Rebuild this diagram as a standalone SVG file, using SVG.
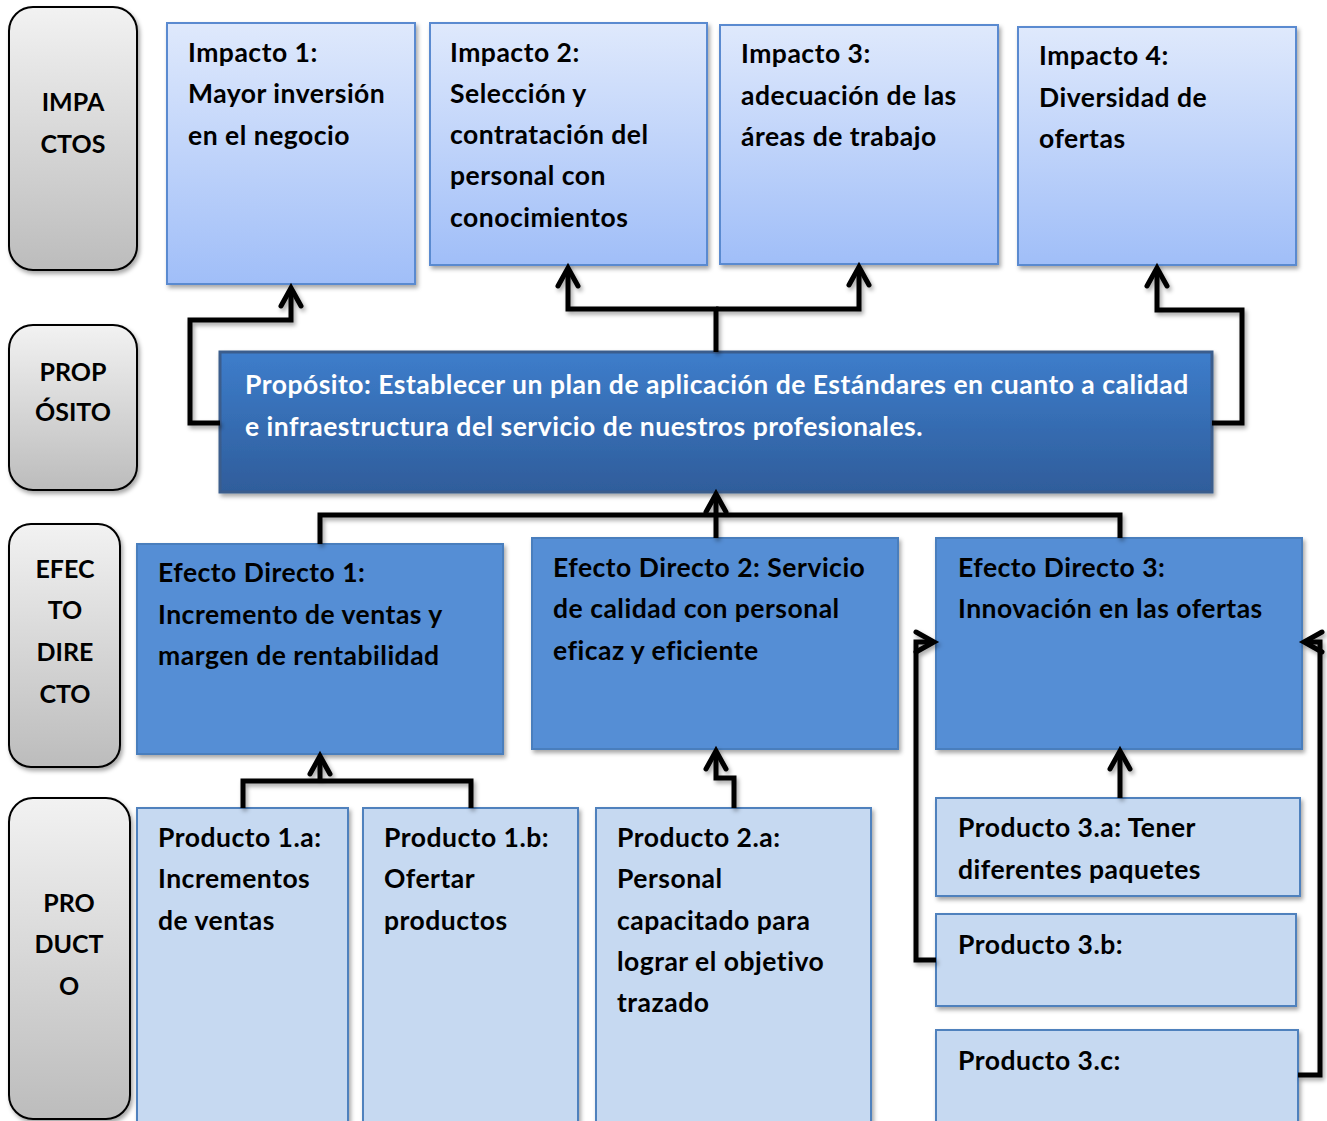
<svg xmlns="http://www.w3.org/2000/svg" width="1327" height="1121" viewBox="0 0 1327 1121">
<defs>
<linearGradient id="gGray" x1="0" y1="0" x2="0" y2="1"><stop offset="0" stop-color="#f2f2f2"/><stop offset="1" stop-color="#bcbcbc"/></linearGradient>
<linearGradient id="gImp" x1="0" y1="0" x2="0" y2="1"><stop offset="0" stop-color="#dfe9fc"/><stop offset="1" stop-color="#a0bef8"/></linearGradient>
<linearGradient id="gProp" x1="0" y1="0" x2="0" y2="1"><stop offset="0" stop-color="#3d7dcb"/><stop offset="1" stop-color="#2f5d9b"/></linearGradient>
<filter id="sh" x="-10%" y="-10%" width="130%" height="130%"><feDropShadow dx="2" dy="3" stdDeviation="2" flood-color="#000" flood-opacity="0.35"/></filter>
<marker id="arr" markerUnits="userSpaceOnUse" viewBox="-25 -15 30 30" markerWidth="30" markerHeight="30" refX="0" refY="0" orient="auto" overflow="visible">
<path d="M-18,-10 L0,0 L-18,10" fill="none" stroke="#000" stroke-width="5" stroke-linecap="round" stroke-linejoin="miter"/>
</marker>
</defs>
<style>
.lbl{fill:url(#gGray);stroke:#000;stroke-width:2}
.imp{fill:url(#gImp);stroke:#5a8ad0;stroke-width:2}
.prop{fill:url(#gProp);stroke:#3a5d8c;stroke-width:3}
.ef{fill:#558ed5;stroke:#4a7ebd;stroke-width:2}
.pr{fill:#c6d9f1;stroke:#4f81bd;stroke-width:2}
text{font-family:Lato,"Liberation Sans",sans-serif;font-weight:bold;font-size:26.5px;letter-spacing:0.5px;fill:#000}
.c{text-anchor:middle;font-size:25px;letter-spacing:0}
.w{fill:#fff}
.cn{fill:none;stroke:#000;stroke-width:5;stroke-linejoin:miter}
</style>

<g id="lbl-impactos"><rect class="lbl" x="9" y="7" width="128" height="263" rx="24" filter="url(#sh)"/><text class="c" x="73" y="111">IMPA</text><text class="c" x="73" y="153">CTOS</text></g>
<g id="lbl-proposito"><rect class="lbl" x="9" y="325" width="128" height="165" rx="24" filter="url(#sh)"/><text class="c" x="73" y="381">PROP</text><text class="c" x="73" y="421">ÓSITO</text></g>
<g id="lbl-efecto"><rect class="lbl" x="9" y="524" width="111" height="243" rx="22" filter="url(#sh)"/><text class="c" x="65" y="578">EFEC</text><text class="c" x="65" y="619">TO</text><text class="c" x="65" y="661">DIRE</text><text class="c" x="65" y="703">CTO</text></g>
<g id="lbl-producto"><rect class="lbl" x="9" y="798" width="121" height="321" rx="24" filter="url(#sh)"/><text class="c" x="69" y="912">PRO</text><text class="c" x="69" y="953">DUCT</text><text class="c" x="69" y="995">O</text></g>

<g id="impacto1"><rect class="imp" x="167" y="23" width="248" height="261" filter="url(#sh)"/><text x="188" y="62">Impacto 1:</text><text x="188" y="103">Mayor inversión</text><text x="188" y="145">en el negocio</text></g>
<g id="impacto2"><rect class="imp" x="430" y="23" width="277" height="242" filter="url(#sh)"/><text x="450" y="62">Impacto 2:</text><text x="450" y="103">Selección y</text><text x="450" y="144">contratación del</text><text x="450" y="185">personal con</text><text x="450" y="227">conocimientos</text></g>
<g id="impacto3"><rect class="imp" x="720" y="25" width="278" height="239" filter="url(#sh)"/><text x="741" y="63">Impacto 3:</text><text x="741" y="105">adecuación de las</text><text x="741" y="146">áreas de trabajo</text></g>
<g id="impacto4"><rect class="imp" x="1018" y="27" width="278" height="238" filter="url(#sh)"/><text x="1039" y="65">Impacto 4:</text><text x="1039" y="107">Diversidad de</text><text x="1039" y="148">ofertas</text></g>

<g id="proposito"><rect class="prop" x="220" y="352" width="992" height="140" filter="url(#sh)"/><text class="w" x="245" y="394">Propósito: Establecer un plan de aplicación de Estándares en cuanto a calidad</text><text class="w" x="245" y="436">e infraestructura del servicio de nuestros profesionales.</text></g>

<g id="efecto1"><rect class="ef" x="137" y="544" width="366" height="210" filter="url(#sh)"/><text x="158" y="582">Efecto Directo 1:</text><text x="158" y="624">Incremento de ventas y</text><text x="158" y="665">margen de rentabilidad</text></g>
<g id="efecto2"><rect class="ef" x="532" y="538" width="366" height="211" filter="url(#sh)"/><text x="553" y="577">Efecto Directo 2: Servicio</text><text x="553" y="618">de calidad con personal</text><text x="553" y="660">eficaz y eficiente</text></g>
<g id="efecto3"><rect class="ef" x="936" y="538" width="366" height="211" filter="url(#sh)"/><text x="958" y="577">Efecto Directo 3:</text><text x="958" y="618">Innovación en las ofertas</text></g>

<g id="producto1a"><rect class="pr" x="137" y="808" width="211" height="320" filter="url(#sh)"/><text x="158" y="847">Producto 1.a:</text><text x="158" y="888">Incrementos</text><text x="158" y="930">de ventas</text></g>
<g id="producto1b"><rect class="pr" x="363" y="808" width="215" height="320" filter="url(#sh)"/><text x="384" y="847">Producto 1.b:</text><text x="384" y="888">Ofertar</text><text x="384" y="930">productos</text></g>
<g id="producto2a"><rect class="pr" x="596" y="808" width="275" height="320" filter="url(#sh)"/><text x="617" y="847">Producto 2.a:</text><text x="617" y="888">Personal</text><text x="617" y="930">capacitado para</text><text x="617" y="971">lograr el objetivo</text><text x="617" y="1012">trazado</text></g>
<g id="producto3a"><rect class="pr" x="936" y="798" width="364" height="98" filter="url(#sh)"/><text x="958" y="837">Producto 3.a: Tener</text><text x="958" y="879">diferentes paquetes</text></g>
<g id="producto3b"><rect class="pr" x="936" y="914" width="360" height="92" filter="url(#sh)"/><text x="958" y="954">Producto 3.b:</text></g>
<g id="producto3c"><rect class="pr" x="936" y="1030" width="362" height="98" filter="url(#sh)"/><text x="958" y="1070">Producto 3.c:</text></g>

<g id="connectors" filter="url(#sh)">
<path class="cn" d="M220,423 H190 V320 H291 V288" marker-end="url(#arr)"/>
<path class="cn" d="M716,352 V309 H568 V268" marker-end="url(#arr)"/>
<path class="cn" d="M716,309 H859 V267" marker-end="url(#arr)"/>
<path class="cn" d="M1212,423 H1242 V310 H1157 V268" marker-end="url(#arr)"/>
<path class="cn" d="M320,544 V515 H1120 V538"/>
<path class="cn" d="M716,538 V494" marker-end="url(#arr)"/>
<path class="cn" d="M243,808 V781 H471 V808"/>
<path class="cn" d="M320,781 V756" marker-end="url(#arr)"/>
<path class="cn" d="M734,808 V778 H716 V751" marker-end="url(#arr)"/>
<path class="cn" d="M1120,798 V751" marker-end="url(#arr)"/>
<path class="cn" d="M936,960 H916 V642 H934" marker-end="url(#arr)"/>
<path class="cn" d="M1298,1075 H1320 V642 H1304" marker-end="url(#arr)"/>
</g>
</svg>
